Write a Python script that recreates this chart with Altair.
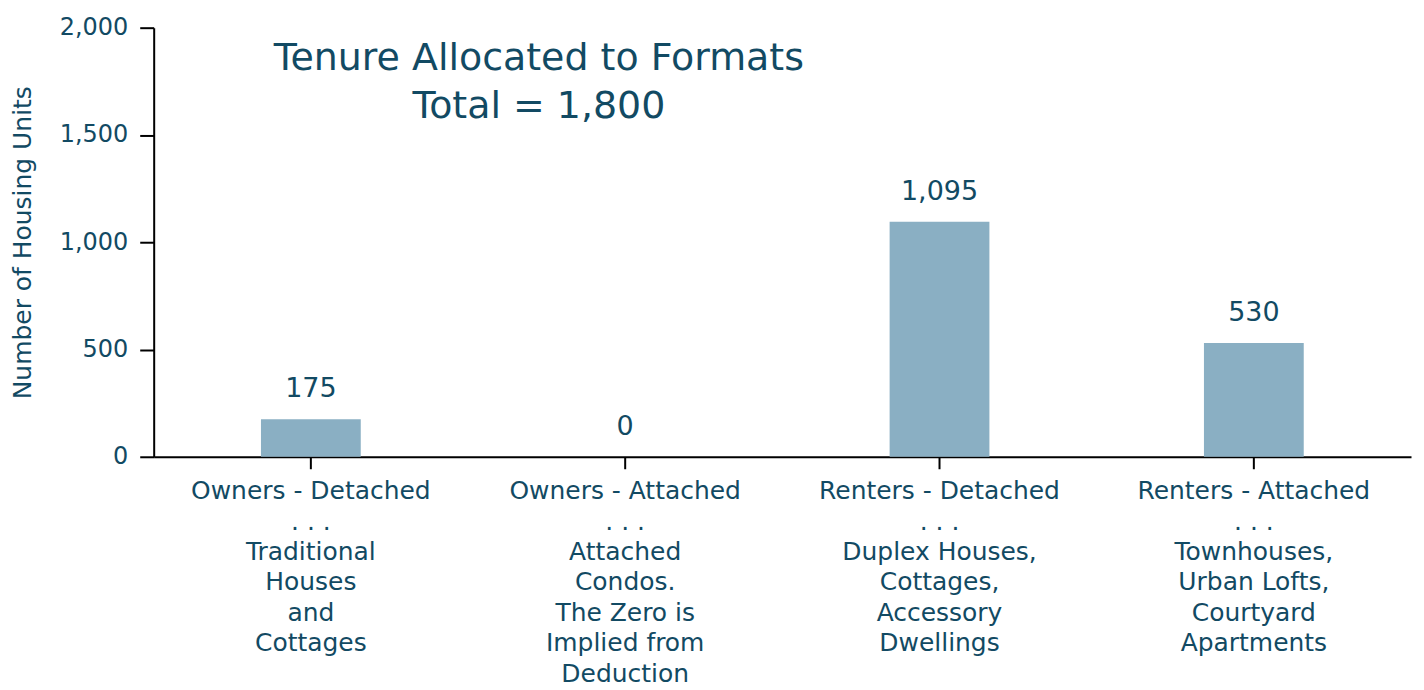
import altair as alt
import pandas as pd

categories = ["Owners - Detached", "Owners - Attached", "Renters - Detached", "Renters - Attached"]
descriptions = [
    ["Traditional", "Houses", "and", "Cottages"],
    ["Attached", "Condos.", "The Zero is", "Implied from", "Deduction"],
    ["Duplex Houses,", "Cottages,", "Accessory", "Dwellings"],
    ["Townhouses,", "Urban Lofts,", "Courtyard", "Apartments"],
]
units = [175, 0, 1095, 530]
title_lines = ["Tenure Allocated to Formats", "Total = 1,800"]

TEXT = "#124a63"
BAR = "#8aafc3"
FONT = "DejaVu Sans"

labels = ["|".join([c, ". . ."] + d) for c, d in zip(categories, descriptions)]
df = pd.DataFrame({"cat": labels, "units": units})

x = alt.X("cat:N", sort=labels, title=None,
          scale=alt.Scale(paddingInner=0, paddingOuter=0),
          axis=alt.Axis(labelExpr="split(datum.label, '|')", labelAngle=0,
                        labelFontSize=25, labelColor=TEXT, labelFont=FONT,
                        labelLineHeight=30.5, labelPadding=10, tickSize=12,
                        tickColor="black", domainColor="black", tickWidth=2, domainWidth=2,
                        labelLimit=400))
y = alt.Y("units:Q", title="Number of Housing Units",
          scale=alt.Scale(domain=[0, 2000]),
          axis=alt.Axis(values=[0, 500, 1000, 1500, 2000], format=",.0f", grid=False,
                        labelFontSize=24, labelColor=TEXT, labelFont=FONT,
                        titleFontSize=25, titleColor=TEXT, titleFont=FONT, titleFontWeight="normal",
                        tickSize=14, tickColor="black", domainColor="black",
                        tickWidth=2, domainWidth=2, labelPadding=12, titlePadding=24))

base = alt.Chart(df)
bars = base.mark_bar(color=BAR, size=100).encode(x=x, y=y)
vals = base.mark_text(fontSize=27, color=TEXT, font=FONT, baseline="bottom", dy=-16).encode(
    x=alt.X("cat:N", sort=labels), y="units:Q", text=alt.Text("units:Q", format=","))
ttl = alt.Chart(pd.DataFrame({"t": [0]})).mark_text(
    fontSize=38, color=TEXT, font=FONT, lineHeight=49, align="center", baseline="top"
).encode(x=alt.value(386), y=alt.value(12), text=alt.value(title_lines))

chart = alt.layer(bars, vals, ttl).properties(
    width=1260, height=430,
    padding={"left": 2, "top": 7, "right": 5, "bottom": 5},
).configure_view(stroke=None)
chart.save("out.html", embed_options={"renderer": "svg", "actions": False})
